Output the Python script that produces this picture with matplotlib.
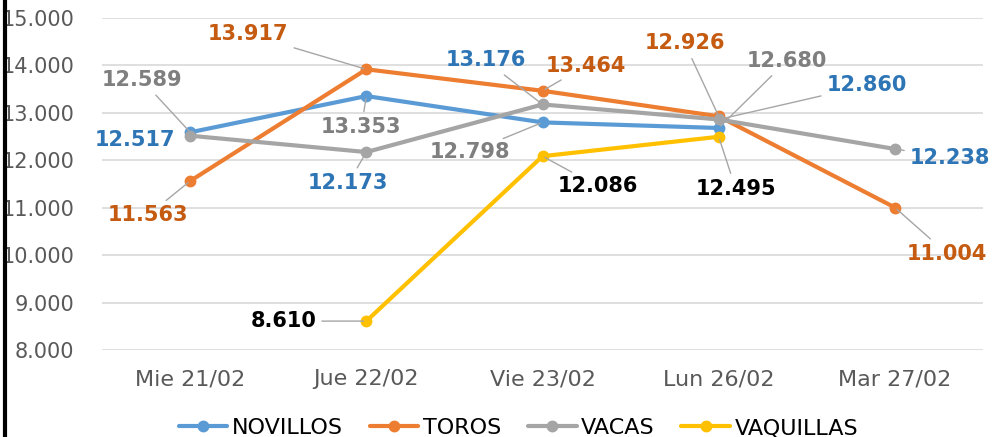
import matplotlib.pyplot as plt
from matplotlib.lines import Line2D

# Datos del grafico
dias = ['Mie 21/02', 'Jue 22/02', 'Vie 23/02', 'Lun 26/02', 'Mar 27/02']
novillos = [12589, 13353, 12798, 12680, None]
toros = [11563, 13917, 13464, 12926, 11004]
vacas = [12517, 12173, 13176, 12860, 12238]
vaquillas = [None, 8610, 12086, 12495, None]

series = [
    ('NOVILLOS', novillos, '#5B9BD5', '#7F7F7F'),
    ('TOROS', toros, '#ED7D31', '#C55A11'),
    ('VACAS', vacas, '#A5A5A5', '#2E75B6'),
    ('VAQUILLAS', vaquillas, '#FFC000', '#000000'),
]

# desplazamiento de cada etiqueta en pixeles (dx, dy) y si lleva linea guia
offsets = {
    'NOVILLOS': [(-48, 52, True), (-5, -31, True), (-73, -30, True), (68, 67, True), None],
    'TOROS': [(-42, -34, True), (-118, 35, True), (43, 25, True), (-34, 73, True), (52, -46, True)],
    'VACAS': [(-55, -4, False), (-18, -31, True), (-57, 44, True), (148, 34, True), (55, -9, True)],
    'VAQUILLAS': [None, (-83, 0, True), (55, -30, True), (17, -52, True), None],
}

def fmt(v):
    return f'{v:,.0f}'.replace(',', '.')

fig = plt.figure(figsize=(10.01, 4.37), dpi=100)
ax = fig.add_axes([0.102, 0.199, 0.88, 0.76])

x = list(range(len(dias)))
for nombre, valores, color, color_txt in series:
    xs = [i for i, v in zip(x, valores) if v is not None]
    ys = [v for v in valores if v is not None]
    ax.plot(xs, ys, color=color, lw=3, marker='o', markersize=7.5,
            label=nombre, solid_capstyle='round', zorder=3)

for nombre, valores, color, color_txt in series:
    for i, v in enumerate(valores):
        if v is None:
            continue
        dx, dy, guia = offsets[nombre][i]
        props = None
        if guia:
            props = dict(arrowstyle='-', color='#A6A6A6', lw=1, shrinkA=2, shrinkB=2)
        ax.annotate(fmt(v), (i, v), xytext=(dx, dy), textcoords='offset pixels',
                    ha='center', va='center', fontsize=15, fontweight='bold',
                    color=color_txt, arrowprops=props, zorder=5)

ax.set_xlim(-0.5, 4.5)
ax.set_ylim(8000, 15000)
ax.set_yticks(range(8000, 15001, 1000))
ax.set_yticklabels([fmt(t) for t in range(8000, 15001, 1000)])
ax.set_xticks(x)
ax.set_xticklabels(dias)
ax.grid(axis='y', color='#D9D9D9', lw=1.2)
ax.set_axisbelow(True)
for s in ax.spines.values():
    s.set_visible(False)
ax.tick_params(length=0, labelcolor='#595959')
ax.tick_params(axis='x', pad=14, labelsize=16)
ax.tick_params(axis='y', pad=20, labelsize=15)

fig.legend(loc='center', bbox_to_anchor=(0.518, 0.02), ncol=4, frameon=False,
           fontsize=16, handlelength=2.2, columnspacing=1.2, handletextpad=0.2)

# borde izquierdo negro
fig.add_artist(Line2D([0.005, 0.005], [0, 1], transform=fig.transFigure, color='black', lw=3))

fig.savefig('out.png', dpi=100)
